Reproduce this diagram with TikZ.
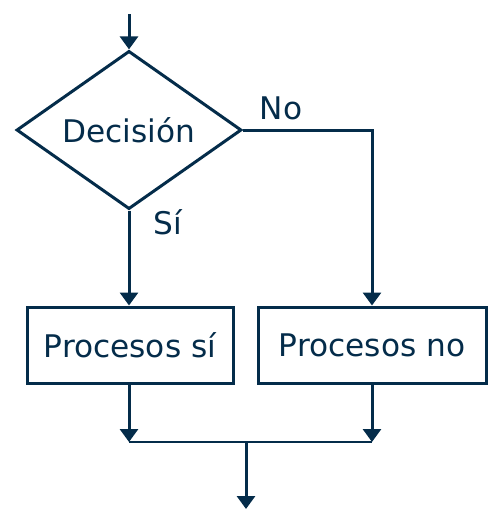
\documentclass[tikz,border=0pt]{standalone}
\usepackage{fontspec}
\setmainfont{DejaVu Sans}
\usetikzlibrary{positioning, arrows.meta, shapes.geometric}
\definecolor{navy}{RGB}{4,44,74}

\begin{document}
\begin{tikzpicture}[
    x=0.5pt, y=-0.5pt,
    every node/.style = {text=navy, font=\fontsize{15.6}{18}\selectfont},
    decision/.style   = {diamond, draw=navy, line width=1.5pt, inner sep=0pt,
                         minimum width=112.5pt, minimum height=75pt},
    proc/.style       = {rectangle, draw=navy, line width=1.5pt, inner sep=0pt,
                         minimum height=38pt},
    flow/.style       = {-{Triangle[width=9pt, length=6.5pt]}, draw=navy, line width=1.5pt},
    mergeline/.style  = {draw=navy, line width=1pt},
  ]
  \useasboundingbox (0,0) rectangle (493,509);

  \coordinate (in) at (129,14);
  \node[decision] (dec) at (129,130) {Decisión};
  \node[proc, minimum width=103pt] (psi) at (130,345) {Procesos sí};
  \node[proc, minimum width=114pt] (pno) at (372,345) {Procesos no};
  \coordinate (merge) at (246,442);
  \coordinate (out) at (246,509);

  \draw[flow] (in) -- (dec.north);
  \draw[flow] (dec.south) -- (dec.south |- psi.north);
  \draw[flow] (dec.east) -| (pno.north);
  \draw[flow] (psi.south -| dec.south) -- (merge -| dec.south);
  \draw[flow] (pno.south) -- (pno.south |- merge);
  \draw[mergeline] (merge -| dec.south) -- (pno.south |- merge);
  \draw[flow] (merge) -- (out);

  % branch labels
  \node (no) at (281,108) {No};
  \node (si) at (168,222) {Sí};
\end{tikzpicture}
\end{document}
